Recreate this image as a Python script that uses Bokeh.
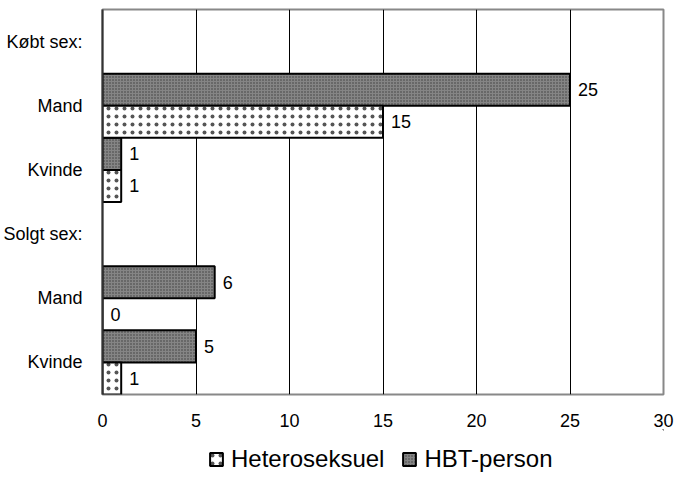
from bokeh.plotting import figure
from bokeh.layouts import column
from bokeh.models import ColumnDataSource, Range1d, FixedTicker, Legend, LegendItem
from bokeh.core.properties import value
from bokeh.embed import file_html
from bokeh.resources import INLINE

categories = ["Købt sex:", "Mand", "Kvinde", "Solgt sex:", "Mand", "Kvinde"]
hetero = [None, 15, 1, None, 0, 1]
hbt = [None, 25, 1, None, 6, 5]
x_ticks = [0, 5, 10, 15, 20, 25, 30]
series_names = ["Heteroseksuel", "HBT-person"]

FONT = "Liberation Sans"
HBT_STYLE = dict(fill_color="#858585", hatch_pattern="dot", hatch_color="#3a3a3a",
                 hatch_scale=3, line_color="black", line_width=2)
HET_STYLE = dict(fill_color="white", hatch_pattern="dot", hatch_color="#555555",
                 hatch_scale=8, hatch_weight=0.6, line_color="black", line_width=2)

p = figure(width=675, height=429, output_backend="svg", toolbar_location=None,
           x_range=Range1d(0, 30), y_range=Range1d(5.5, -0.5),
           min_border_left=100, min_border_right=12, min_border_top=9, min_border_bottom=34)

def rows(vals, off):
    ys, xs, labels = [], [], []
    for i, v in enumerate(vals):
        if v is not None:
            ys.append(i + off)
            xs.append(v)
            labels.append(str(v))
    return ColumnDataSource(dict(y=ys, x=xs, label=labels))

src_hbt = rows(hbt, -0.25)
src_het = rows(hetero, 0.25)

p.hbar(y="y", right="x", left=0, height=0.5, source=src_hbt, **HBT_STYLE)
p.hbar(y="y", right="x", left=0, height=0.5, source=src_het, **HET_STYLE)

for src in (src_hbt, src_het):
    p.text(x="x", y="y", text="label", source=src, x_offset=8,
           text_baseline="middle", text_align="left",
           text_font=value(FONT), text_font_size="18px", text_color="black")

p.xaxis.ticker = FixedTicker(ticks=x_ticks)
p.yaxis.ticker = FixedTicker(ticks=list(range(len(categories))))
p.yaxis.major_label_overrides = {i: c for i, c in enumerate(categories)}

for ax in (p.xaxis[0], p.yaxis[0]):
    ax.major_tick_line_color = None
    ax.minor_tick_line_color = None
    ax.major_label_text_font = FONT
    ax.major_label_text_font_size = "18px"
    ax.major_label_text_color = "black"
p.xaxis.axis_line_color = None
p.xaxis.major_label_standoff = 13
p.yaxis.axis_line_color = "#333333"
p.yaxis.axis_line_width = 2
p.yaxis.major_label_standoff = 14

p.ygrid.grid_line_color = None
p.xgrid.grid_line_color = "black"
p.xgrid.grid_line_width = 1

p.outline_line_color = "#888888"
p.outline_line_width = 2

# legend strip below the chart (swatch renderers sit outside the visible range)
lg = figure(width=675, height=44, output_backend="svg", toolbar_location=None,
            x_range=Range1d(0, 1), y_range=Range1d(0, 1),
            x_axis_type=None, y_axis_type=None,
            min_border_left=0, min_border_right=0, min_border_top=0, min_border_bottom=0)
lg.outline_line_color = None
lg.grid.grid_line_color = None
swatch = dict(y=[5], right=[5])
l_het = lg.hbar(y="y", right="right", left=4, height=0.5, source=ColumnDataSource(swatch), **HET_STYLE)
l_hbt = lg.hbar(y="y", right="right", left=4, height=0.5, source=ColumnDataSource(swatch), **HBT_STYLE)

legend = Legend(items=[LegendItem(label=series_names[0], renderers=[l_het]),
                       LegendItem(label=series_names[1], renderers=[l_hbt])],
                orientation="horizontal", location=(106, 0),
                label_text_font=FONT, label_text_font_size="24px", label_text_color="black",
                glyph_width=16, glyph_height=16, label_standoff=7, spacing=17,
                border_line_color=None, background_fill_alpha=0,
                padding=0, margin=0)
lg.add_layout(legend)

layout = column(p, lg, spacing=0)
open("out.html", "w").write(file_html(layout, INLINE))
